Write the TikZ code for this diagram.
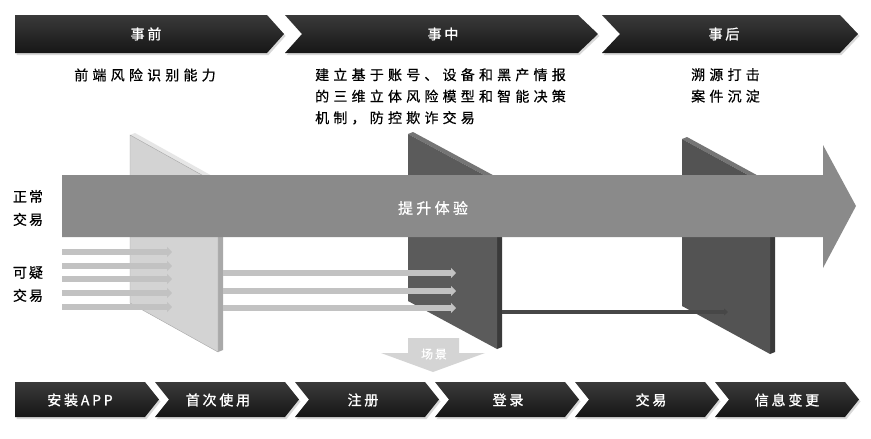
\documentclass[tikz,border=0pt]{standalone}
\usepackage{fontspec}
\setmainfont{Noto Sans CJK SC}
\usetikzlibrary{arrows.meta}
\definecolor{chevtop}{HTML}{3A3A3A}
\definecolor{chevbot}{HTML}{161616}
\definecolor{bigarrow}{HTML}{8A8A8A}
\definecolor{sline}{HTML}{C2C2C2}
\definecolor{dline}{HTML}{474747}
\definecolor{pAfront}{HTML}{D3D3D3}
\definecolor{pAtop}{HTML}{E6E6E6}
\definecolor{pAside}{HTML}{A9A9A9}
\definecolor{pBfront}{HTML}{5B5B5B}
\definecolor{pBtop}{HTML}{757575}
\definecolor{pBside}{HTML}{3A3A3A}
\definecolor{scene}{HTML}{D4D4D4}
\begin{document}
\begin{tikzpicture}[x=1pt,y=-1pt,
  chev/.style={top color=chevtop,bottom color=chevbot,draw=none},
  chevshadow/.style={fill=black!30,opacity=0.5,draw=none},
  lbl/.style={text=white,inner sep=0,font=\fontsize{14}{16}\selectfont\addfontfeature{LetterSpace=20,FakeBold=1.2}},
  desc/.style={inner sep=0,align=left,font=\fontsize{14}{21.5}\selectfont\addfontfeature{LetterSpace=30,FakeBold=0.6}},
  side/.style={inner sep=0,align=center,font=\fontsize{14}{23}\selectfont\addfontfeature{LetterSpace=15,FakeBold=0.6}},
  lightline/.style={draw=sline,line width=6pt,-{Triangle[length=5pt,width=10pt]}},
  darkline/.style={draw=dline,line width=4.5pt,-{Triangle[length=4pt,width=7pt]}}]
\useasboundingbox (0,0) rectangle (871,439);
\fill[white] (0,0) rectangle (871,439);

% ---------- top chevrons ----------
\fill[chevshadow,shift={(1.5,2)}] (15,15) -- (267,15) -- (284,34) -- (267,53) -- (15,53) -- cycle;
\fill[chevshadow,shift={(1.5,2)}] (285,15) -- (578,15) -- (598,34) -- (578,53) -- (285,53) -- (302,34) -- cycle;
\fill[chevshadow,shift={(1.5,2)}] (602,15) -- (840,15) -- (858,34) -- (840,53) -- (602,53) -- (620,34) -- cycle;
\path[chev] (15,15) -- (267,15) -- (284,34) -- (267,53) -- (15,53) -- cycle;
\path[chev] (285,15) -- (578,15) -- (598,34) -- (578,53) -- (285,53) -- (302,34) -- cycle;
\path[chev] (602,15) -- (840,15) -- (858,34) -- (840,53) -- (602,53) -- (620,34) -- cycle;
\node[lbl] (tpre) at (146,34) {事前};
\node[lbl] (tmid) at (443,34) {事中};
\node[lbl] (tpost) at (724,34) {事后};

% ---------- descriptions ----------
\node[desc,anchor=center] (dpre) at (145,75) {前端风险识别能力};
\node[desc,anchor=north west] (dmid) at (315,68) {建立基于账号、设备和黑产情报\\的三维立体风险模型和智能决策\\机制，防控欺诈交易};
\node[desc,anchor=north west] (dpost) at (691,68) {溯源打击\\案件沉淀};

% ---------- panels ----------
% panel 1
\fill[pAtop] (130,135) -- (135,133) -- (223,182) -- (218,184) -- cycle;
\fill[pAside] (218,184) -- (223,182) -- (223,350) -- (218,352) -- cycle;
\fill[pAfront,draw=black!35,line width=0.4pt] (130,135) -- (218,184) -- (218,352) -- (130,303) -- cycle;
% panel 2
\fill[pBtop] (408,134) -- (413,132) -- (502,180) -- (497,182) -- cycle;
\fill[pBside] (497,182) -- (502,180) -- (502,347) -- (497,349) -- cycle;
\fill[pBfront] (408,134) -- (497,182) -- (497,349) -- (408,301) -- cycle;
% panel 3
\fill[pBtop] (682,139) -- (687,137) -- (775,185) -- (770,187) -- cycle;
\fill[pBside] (770,187) -- (775,185) -- (775,352) -- (770,354) -- cycle;
\fill[pBfront!105] (682,139) -- (770,187) -- (770,354) -- (682,306) -- cycle;

% ---------- suspicious transaction lines ----------
\foreach \i/\y in {1/252,2/266,3/279,4/293,5/307}{
  \coordinate (sa\i) at (62,\y);
  \coordinate (sb\i) at (172,\y);
  \draw[lightline] (sa\i) -- (sb\i);
}
\foreach \i/\y in {1/273,2/291,3/308}{
  \coordinate (ta\i) at (223,\y);
  \coordinate (tb\i) at (456,\y);
  \draw[lightline] (ta\i) -- (tb\i);
}
\coordinate (da) at (502,312);
\coordinate (db) at (728,312);
\draw[darkline] (da) -- (db);

% ---------- big arrow ----------
\fill[bigarrow] (62,175) -- (823,175) -- (823,145) -- (856,206) -- (823,268) -- (823,237) -- (62,237) -- cycle;
\node[text=white,inner sep=0,font=\fontsize{15}{17}\selectfont\addfontfeature{LetterSpace=22,FakeBold=0.8}] (exp) at (433,208) {提升体验};

% ---------- side labels ----------
\node[side] (normal) at (28,208) {正常\\交易};
\node[side] (susp) at (28,284) {可疑\\交易};

% ---------- scene arrow ----------
\fill[scene] (408,338) -- (459,338) -- (459,353) -- (485,353) -- (433,372) -- (381,353) -- (408,353) -- cycle;
\node[text=white,inner sep=0,font=\fontsize{12}{14}\selectfont\addfontfeature{LetterSpace=15,FakeBold=0.6}] (scn) at (434,354) {场景};

% ---------- bottom chevrons ----------
\foreach \i in {0,...,5}{
  \pgfmathsetmacro{\xa}{15+140*\i}
  \pgfmathsetmacro{\xb}{\xa+130}
  \pgfmathsetmacro{\xc}{\xa+144}
  \pgfmathsetmacro{\xn}{\i==0 ? \xa : \xa+14}
  \fill[chevshadow,shift={(1.5,2)}] (\xa,382) -- (\xb,382) -- (\xc,399.5) -- (\xb,417) -- (\xa,417) -- (\xn,399.5) -- cycle;
  \path[chev] (\xa,382) -- (\xb,382) -- (\xc,399.5) -- (\xb,417) -- (\xa,417) -- (\xn,399.5) -- cycle;
}
\node[lbl] (b1) at (80,400) {安装APP};
\node[lbl] (b2) at (218,400) {首次使用};
\node[lbl] (b3) at (363,400) {注册};
\node[lbl] (b4) at (508,400) {登录};
\node[lbl] (b5) at (651,400) {交易};
\node[lbl] (b6) at (787,400) {信息变更};
\end{tikzpicture}
\end{document}
